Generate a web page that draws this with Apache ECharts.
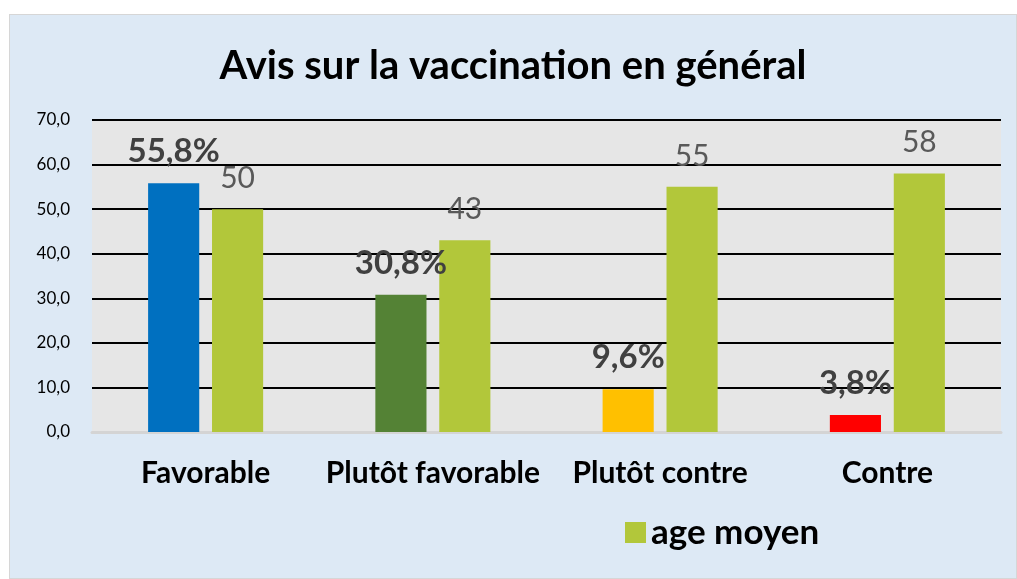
<!DOCTYPE html>
<html>
<head>
<meta charset="utf-8">
<script src="https://cdn.jsdelivr.net/npm/echarts@6/dist/echarts.min.js"></script>
<style>
  html, body { margin: 0; padding: 0; background: #ffffff; }
  #chart {
    position: absolute;
    left: 9px;
    top: 14px;
    width: 1006px;
    height: 563px;
    background: #dde9f5;
    border: 1px solid #d6d6d6;
  }
</style>
</head>
<body>
<div id="chart"></div>
<script>
const categories = ['Favorable', 'Plutôt favorable', 'Plutôt contre', 'Contre']
const avisValues = [55.8, 30.8, 9.6, 3.8]
const avisColors = ['#0070c0', '#548235', '#ffc000', '#ff0000']
const ageValues = [50, 43, 55, 58]

const FONT = 'Lato, "Open Sans", sans-serif'

const chart = echarts.init(document.getElementById('chart'))

chart.setOption({
  animation: false,
  textStyle: { fontFamily: FONT },
  title: {
    text: 'Avis sur la vaccination en général',
    left: 'center',
    top: 26,
    textStyle: { fontSize: 40, fontWeight: 'bold', color: '#000', fontFamily: FONT },
  },
  legend: {
    data: ['age moyen'],
    left: 610,
    top: 495,
    itemWidth: 21,
    itemHeight: 21,
    itemGap: 10,
    icon: 'rect',
    textStyle: { fontSize: 35, fontWeight: 'bold', color: '#000', fontFamily: FONT },
  },
  grid: {
    left: 82,
    right: 15,
    top: 105,
    bottom: 146,
    show: true,
    backgroundColor: '#e6e6e6',
    borderWidth: 0,
  },
  xAxis: {
    type: 'category',
    data: categories,
    axisTick: { show: false },
    axisLine: { lineStyle: { color: '#d4d4d4', width: 3 } },
    axisLabel: { interval: 0, color: '#000', fontSize: 30, fontWeight: 'bold', margin: 26, fontFamily: FONT },
  },
  yAxis: {
    type: 'value',
    min: 0,
    max: 70,
    interval: 10,
    axisLine: { show: false },
    axisTick: { show: false },
    splitLine: { lineStyle: { color: '#000', width: 2 } },
    axisLabel: {
      color: '#000',
      fontSize: 17,
      margin: 22,
      fontFamily: FONT,
      formatter: (v) => v.toFixed(1).replace('.', ','),
    },
  },
  series: [
    {
      name: 'avis',
      type: 'bar',
      data: avisValues.map((v, i) => ({ value: v, itemStyle: { color: avisColors[i] } })),
      barWidth: '22.5%',
      barGap: '25%',
      label: {
        show: true,
        position: 'top',
        distance: 15,
        color: '#404040',
        fontSize: 33,
        fontWeight: 'bold',
        fontFamily: FONT,
        formatter: (p) => p.value.toFixed(1).replace('.', ',') + '%',
      },
    },
    {
      name: 'age moyen',
      type: 'bar',
      data: ageValues,
      barWidth: '22.5%',
      itemStyle: { color: '#b2c73a' },
      label: {
        show: true,
        position: 'top',
        distance: 16,
        color: '#595959',
        fontSize: 30,
        fontFamily: FONT,
      },
    },
  ],
})
</script>
</body>
</html>
